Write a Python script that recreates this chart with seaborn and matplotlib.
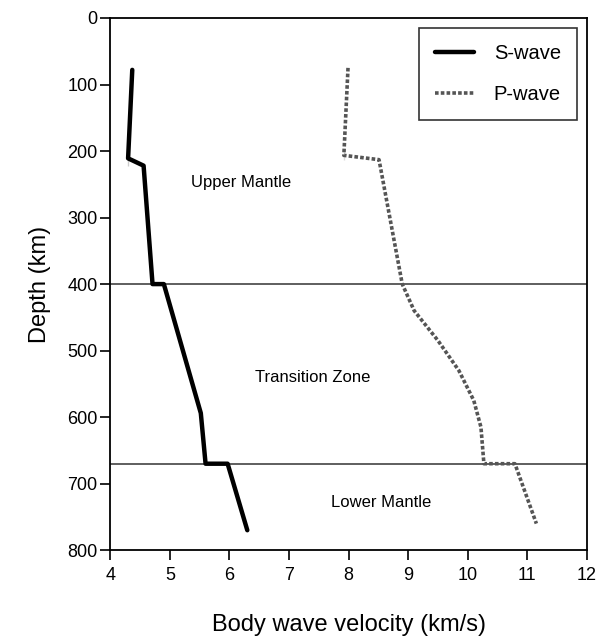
import matplotlib
matplotlib.use("Agg")
import matplotlib.pyplot as plt
import seaborn as sns
import pandas as pd

# values
s_velocity = [4.37, 4.30, 4.30, 4.56, 4.71, 4.90, 5.52, 5.60, 5.97, 6.30]
s_depth = [78, 200, 222, 222, 400, 400, 594, 670, 670, 770]

p_velocity = [7.99, 7.92, 7.92, 8.51, 8.90, 9.10, 9.50, 9.85, 10.10, 10.22, 10.27, 10.79, 11.15]
p_depth = [75, 200, 213, 213, 400, 440, 485, 530, 575, 615, 670, 670, 760]

boundaries = [400, 670]
zone_names = ["Upper Mantle", "Transition Zone", "Lower Mantle"]
zone_x = [6.2, 7.4, 8.55]
zone_y = [248, 540, 728]

sns.set_style("ticks")
plt.rcParams["font.family"] = ["Liberation Sans", "DejaVu Sans"]
plt.rcParams["text.color"] = "black"
plt.rcParams["axes.labelcolor"] = "black"

s_df = pd.DataFrame({"velocity": s_velocity, "depth": s_depth})
p_df = pd.DataFrame({"velocity": p_velocity, "depth": p_depth})

fig = plt.figure(figsize=(5.99, 6.42), dpi=100)
ax = fig.add_axes([0.184, 0.143, 0.796, 0.829])

for b in boundaries:
    ax.axhline(b, color="#333333", lw=1.1, zorder=1)

sns.lineplot(data=s_df, x="velocity", y="depth", sort=False, ax=ax,
             color="black", lw=3.2, label="S-wave", zorder=3)
sns.lineplot(data=p_df, x="velocity", y="depth", sort=False, ax=ax,
             color="#555555", lw=2.6, ls=(0, (1, 0.6)), label="P-wave", zorder=3)

for name, zx, zy in zip(zone_names, zone_x, zone_y):
    ax.text(zx, zy, name, ha="center", va="center", fontsize=12)

ax.set_xlim(4, 12)
ax.set_ylim(800, 0)
ax.set_xticks(range(4, 13))
ax.set_yticks(range(0, 801, 100))
ax.tick_params(labelsize=13, length=7, width=1.2, pad=2, colors="black")
ax.tick_params(axis="x", pad=5)
for sp in ax.spines.values():
    sp.set_linewidth(1.3)
    sp.set_color("black")

ax.set_xlabel("Body wave velocity (km/s)", fontsize=17, labelpad=22)
ax.set_ylabel("Depth (km)", fontsize=17, labelpad=12)

leg = ax.legend(loc="upper right", fontsize=14.5, frameon=True, fancybox=False,
                edgecolor="black", handlelength=1.9, borderpad=0.8,
                labelspacing=1.1, borderaxespad=0.5, handletextpad=1.0)
leg.get_frame().set_linewidth(1.2)

fig.savefig("out.png", dpi=100)
